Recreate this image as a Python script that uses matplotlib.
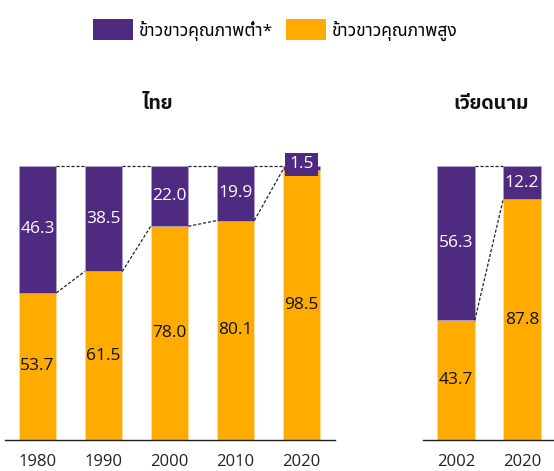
import matplotlib
matplotlib.use('Agg')
import matplotlib.pyplot as plt
from matplotlib.patches import Patch
from matplotlib import font_manager

# ข้อมูล
th_years = ['1980', '1990', '2000', '2010', '2020']
th_low = [46.3, 38.5, 22.0, 19.9, 1.5]
th_high = [53.7, 61.5, 78.0, 80.1, 98.5]

vn_years = ['2002', '2020']
vn_low = [56.3, 12.2]
vn_high = [43.7, 87.8]

low_name = 'ข้าวขาวคุณภาพต่ำ*'
high_name = 'ข้าวขาวคุณภาพสูง'
titles = ['ไทย', 'เวียดนาม']

purple = '#4E2B80'
orange = '#FFAB00'
fonts = ['Open Sans', 'Noto Sans Thai', 'DejaVu Sans']
plt.rcParams['font.family'] = fonts

# жирный тайский шрифт, если есть
bold_thai = 'Noto Sans Thai'
for cand in ['Noto Sans Thai', 'Noto Sans Thai UI', 'Anuphan', 'IBM Plex Sans Thai', 'Kanit', 'Prompt']:
    ok = [f for f in font_manager.fontManager.ttflist
          if f.name == cand and (f.weight in ('bold', 700) or str(f.weight) in ('bold', '700'))]
    if ok:
        bold_thai = cand
        break

W, H = 554, 471
fig = plt.figure(figsize=(W / 100, H / 100), dpi=100)

ax_th = fig.add_axes([4.5 / W, 1 - 440 / H, 330 / W, 274 / H])
ax_vn = fig.add_axes([423 / W, 1 - 440 / H, 132 / W, 274 / H])

bw = 0.57


def draw(ax, years, low, high):
    x = list(range(len(years)))
    ax.bar(x, high, width=bw, color=orange, edgecolor='#FFE3A0', linewidth=0.4)
    ax.bar(x, low, width=bw, bottom=high, color=purple, edgecolor='#B9A8D0', linewidth=0.4)
    # пунктирные соединители
    for i in range(len(x) - 1):
        x0 = x[i] + bw / 2
        x1 = x[i + 1] - bw / 2
        ax.plot([x0, x1], [high[i], high[i + 1]], color='#222222', lw=0.9,
                ls=(0, (2.5, 1.5)), clip_on=False)
        ax.plot([x0, x1], [100, 100], color='#222222', lw=0.9,
                ls=(0, (2.5, 1.5)), clip_on=False)
    for i in range(len(x)):
        ax.text(x[i], high[i] / 2, f'{high[i]:.1f}', ha='center', va='center',
                fontsize=12.5, color='#111111')
        if low[i] < 5:
            ax.text(x[i], 100.6, f'{low[i]:.1f}', ha='center', va='center',
                    fontsize=12.5, color='white', zorder=5,
                    bbox=dict(boxstyle='square,pad=0.22', fc=purple, ec='none'))
        else:
            ax.text(x[i], high[i] + low[i] / 2, f'{low[i]:.1f}', ha='center',
                    va='center', fontsize=12.5, color='white')
    ax.set_xlim(-0.5, len(x) - 0.5)
    ax.set_ylim(0, 100)
    ax.set_xticks(x)
    ax.set_xticklabels(years, fontsize=12, color='#222222')
    ax.tick_params(axis='x', length=0, pad=10)
    ax.set_yticks([])
    for s in ['left', 'right', 'top']:
        ax.spines[s].set_visible(False)
    ax.spines['bottom'].set_color('#222222')
    ax.spines['bottom'].set_linewidth(1.0)


draw(ax_th, th_years, th_low, th_high)
draw(ax_vn, vn_years, vn_low, vn_high)

fig.text(158 / W, 1 - 104 / H, titles[0], ha='center', va='center',
         fontsize=14, fontweight='bold', color='#111111', family=[bold_thai, 'DejaVu Sans'])
fig.text(491 / W, 1 - 104 / H, titles[1], ha='center', va='center',
         fontsize=14, fontweight='bold', color='#111111', family=[bold_thai, 'DejaVu Sans'])

handles = [Patch(fc=purple, ec='none'), Patch(fc=orange, ec='none')]
fig.legend(handles, [low_name, high_name], loc='center', ncol=2,
           bbox_to_anchor=(275 / W, 1 - 30 / H), frameon=False,
           fontsize=12.5, handlelength=2.3, handleheight=1.5,
           handletextpad=0.3, columnspacing=0.8)

fig.savefig('out.png', dpi=100)
